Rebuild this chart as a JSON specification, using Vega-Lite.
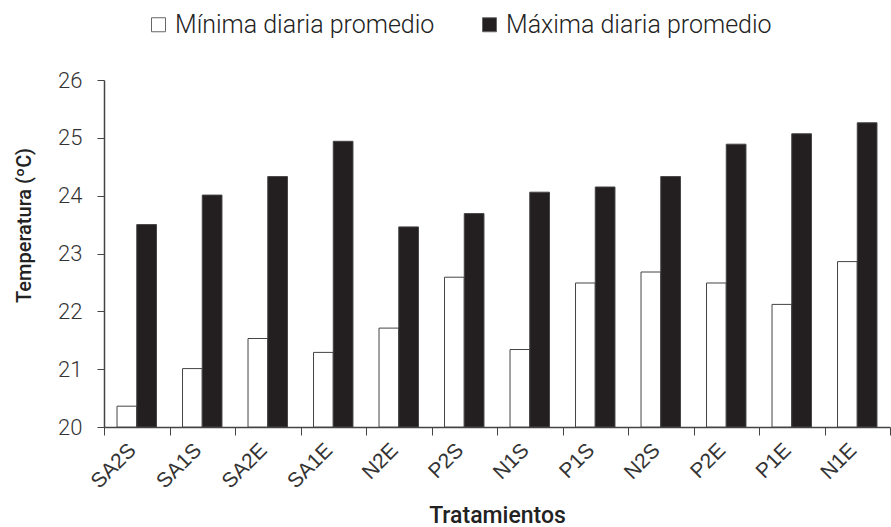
{
  "$schema": "https://vega.github.io/schema/vega-lite/v6.json",
  "width": 786,
  "height": 347,
  "autosize": {"type": "none"},
  "padding": {"left": 104, "top": 80, "right": 1, "bottom": 100},
  "background": "white",
  "config": {
    "view": {"stroke": null},
    "font": "Roboto",
    "axis": {"grid": false, "domainColor": "#444", "tickColor": "#444", "labelColor": "#333", "titleColor": "#222", "labelFont": "Roboto", "titleFont": "Roboto"}
  },
  "data": {
    "values": [
      {"trat": "SA2S", "serie": "Mínima diaria promedio", "temp": 20.36},
      {"trat": "SA2S", "serie": "Máxima diaria promedio", "temp": 23.50},
      {"trat": "SA1S", "serie": "Mínima diaria promedio", "temp": 21.01},
      {"trat": "SA1S", "serie": "Máxima diaria promedio", "temp": 24.01},
      {"trat": "SA2E", "serie": "Mínima diaria promedio", "temp": 21.53},
      {"trat": "SA2E", "serie": "Máxima diaria promedio", "temp": 24.33},
      {"trat": "SA1E", "serie": "Mínima diaria promedio", "temp": 21.29},
      {"trat": "SA1E", "serie": "Máxima diaria promedio", "temp": 24.94},
      {"trat": "N2E", "serie": "Mínima diaria promedio", "temp": 21.71},
      {"trat": "N2E", "serie": "Máxima diaria promedio", "temp": 23.46},
      {"trat": "P2S", "serie": "Mínima diaria promedio", "temp": 22.59},
      {"trat": "P2S", "serie": "Máxima diaria promedio", "temp": 23.69},
      {"trat": "N1S", "serie": "Mínima diaria promedio", "temp": 21.34},
      {"trat": "N1S", "serie": "Máxima diaria promedio", "temp": 24.06},
      {"trat": "P1S", "serie": "Mínima diaria promedio", "temp": 22.49},
      {"trat": "P1S", "serie": "Máxima diaria promedio", "temp": 24.15},
      {"trat": "N2S", "serie": "Mínima diaria promedio", "temp": 22.68},
      {"trat": "N2S", "serie": "Máxima diaria promedio", "temp": 24.33},
      {"trat": "P2E", "serie": "Mínima diaria promedio", "temp": 22.49},
      {"trat": "P2E", "serie": "Máxima diaria promedio", "temp": 24.89},
      {"trat": "P1E", "serie": "Mínima diaria promedio", "temp": 22.12},
      {"trat": "P1E", "serie": "Máxima diaria promedio", "temp": 25.07},
      {"trat": "N1E", "serie": "Mínima diaria promedio", "temp": 22.86},
      {"trat": "N1E", "serie": "Máxima diaria promedio", "temp": 25.26}
    ]
  },
  "mark": {"type": "bar", "stroke": "#444", "strokeWidth": 1},
  "encoding": {
    "x": {
      "field": "trat", "type": "nominal", "sort": null,
      "scale": {"paddingInner": 0, "paddingOuter": 0},
      "axis": {
        "title": "Tratamientos", "titleFontSize": 23, "titleFontWeight": 500,
        "titleY": 95, "titleBaseline": "alphabetic",
        "labelAngle": -45, "labelFont": "Liberation Sans", "labelFontSize": 21, "labelFontWeight": "normal", "labelPadding": 4, "labelOffset": -12,
        "tickBand": "extent", "tickSize": 8, "domainWidth": 1.5
      }
    },
    "xOffset": {
      "field": "serie", "type": "nominal",
      "sort": ["Mínima diaria promedio", "Máxima diaria promedio"],
      "scale": {"paddingInner": 0, "paddingOuter": 0.66}
    },
    "y": {
      "field": "temp", "type": "quantitative",
      "scale": {"domain": [20, 26], "zero": false, "nice": false},
      "axis": {
        "title": "Temperatura (ºC)", "titleFontSize": 20, "titleFontWeight": 500,
        "titleX": -80, "titleY": 145, "titleAlign": "center", "titleBaseline": "middle", "titleAngle": -90,
        "values": [20, 21, 22, 23, 24, 25, 26], "labelFontSize": 22, "labelFontWeight": 300,
        "tickSize": 7, "labelPadding": 15, "domainWidth": 1.5
      }
    },
    "y2": {"datum": 20},
    "fill": {
      "field": "serie", "type": "nominal",
      "sort": ["Mínima diaria promedio", "Máxima diaria promedio"],
      "scale": {"range": ["#ffffff", "#231f20"]},
      "legend": {
        "title": null, "orient": "none", "direction": "horizontal",
        "legendX": 42, "legendY": -68,
        "symbolType": "square", "symbolSize": 196, "symbolStrokeColor": "#666", "symbolStrokeWidth": 1,
        "labelFontSize": 25, "labelFontWeight": 300, "labelColor": "#222", "labelOffset": 4,
        "columnPadding": 42, "labelLimit": 400
      }
    }
  }
}
